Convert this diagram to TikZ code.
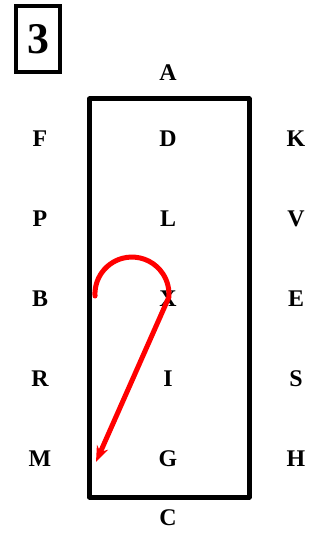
\documentclass[tikz,border=0pt]{standalone}
\usepackage{fontspec}
\setmainfont{Liberation Serif}
\usetikzlibrary{arrows.meta}
\begin{document}
\begin{tikzpicture}[x=1bp,y=1bp,
  lbl/.style={font=\fontsize{24}{24}\selectfont\bfseries, inner sep=0pt},
  frame/.style={draw=black, line width=5bp, line join=round},
  redpath/.style={draw=red, line width=5bp, line cap=round, -{Stealth[length=16bp,width=12bp]}}]
\useasboundingbox (0,0) rectangle (323,-533);
% number box
\draw[line width=4bp] (16,-6) rectangle (60,-72);
\node[font=\fontsize{44}{44}\selectfont\bfseries, inner sep=0pt] (num) at (38,-39) {3};
% main frame
\draw[frame] (89.5,-99) rectangle (249,-497);
% letters
\node[lbl] (A) at (168,-73) {A};
\node[lbl] (C) at (168,-518) {C};
\node[lbl] (F) at (40,-139) {F};
\node[lbl] (D) at (168,-139) {D};
\node[lbl] (K) at (296,-139) {K};
\node[lbl] (P) at (40,-219) {P};
\node[lbl] (L) at (168,-219) {L};
\node[lbl] (V) at (296,-219) {V};
\node[lbl] (B) at (40,-299) {B};
\node[lbl] (X) at (168,-299) {X};
\node[lbl] (E) at (296,-299) {E};
\node[lbl] (R) at (40,-379) {R};
\node[lbl] (I) at (168,-379) {I};
\node[lbl] (S) at (296,-379) {S};
\node[lbl] (M) at (40,-459) {M};
\node[lbl] (G) at (168,-459) {G};
\node[lbl] (H) at (296,-459) {H};
% red move
\coordinate (start) at (95,-296);
\coordinate (tip) at (96,-462);
\draw[redpath] (start) arc[start angle=183, end angle=-5, radius=37] -- (tip);
\end{tikzpicture}
\end{document}
